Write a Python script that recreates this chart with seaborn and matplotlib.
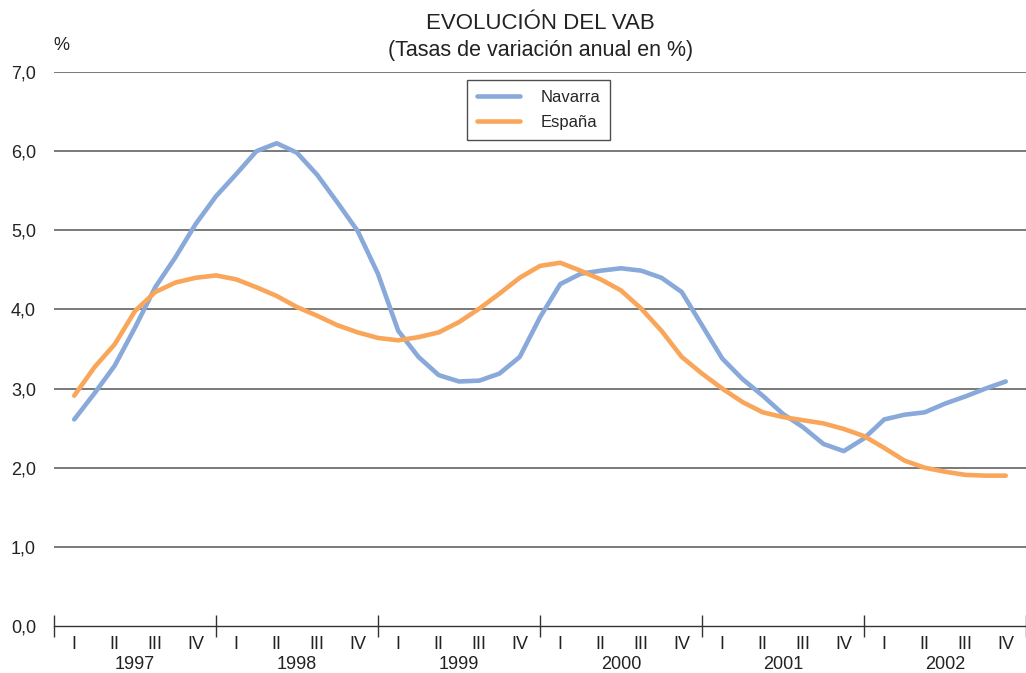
import numpy as np
import pandas as pd
import matplotlib.pyplot as plt
import seaborn as sns
from matplotlib.ticker import FuncFormatter

# quarters 1997-I .. 2002-IV, values read every half quarter
years = ["1997", "1998", "1999", "2000", "2001", "2002"]
quarters = ["I", "II", "III", "IV"]
periodo = np.arange(0, 23.5, 0.5)

navarra = [2.61, 2.94, 3.29, 3.77, 4.28, 4.66, 5.08, 5.43, 5.71, 6.00, 6.10, 5.98,
           5.70, 5.35, 4.99, 4.45, 3.73, 3.40, 3.17, 3.09, 3.10, 3.19, 3.40, 3.90,
           4.32, 4.45, 4.49, 4.52, 4.49, 4.40, 4.22, 3.80, 3.38, 3.12, 2.91, 2.68,
           2.51, 2.30, 2.21, 2.37, 2.61, 2.67, 2.70, 2.81, 2.90, 3.00, 3.09]
espana = [2.91, 3.27, 3.56, 3.98, 4.22, 4.34, 4.40, 4.43, 4.38, 4.28, 4.17, 4.03,
          3.92, 3.80, 3.71, 3.64, 3.61, 3.65, 3.71, 3.84, 4.01, 4.20, 4.40, 4.55,
          4.59, 4.49, 4.38, 4.24, 4.01, 3.73, 3.40, 3.19, 3.00, 2.83, 2.70, 2.64,
          2.60, 2.56, 2.49, 2.40, 2.25, 2.09, 2.00, 1.95, 1.91, 1.90, 1.90]

df = pd.DataFrame({"periodo": np.concatenate([periodo, periodo]),
                   "tasa": navarra + espana,
                   "serie": ["Navarra"] * len(navarra) + ["España"] * len(espana)})

sns.set_style("white")
plt.rcParams['font.family'] = ['Liberation Sans', 'DejaVu Sans']

fig = plt.figure(figsize=(10.26, 6.73), dpi=100)
ax = fig.add_axes([0.0526, 0.0698, 0.9474, 0.8232])

sns.lineplot(data=df, x="periodo", y="tasa", hue="serie", ax=ax,
             palette={"Navarra": "#88A9DA", "España": "#F9A65A"},
             linewidth=3.3, legend=True)

ax.set_xlim(-0.5, 23.3)
ax.set_ylim(0, 7)
ax.set_yticks(range(0, 8))
ax.yaxis.set_major_formatter(FuncFormatter(lambda v, p: f"{v:.1f}".replace(".", ",")))
ax.tick_params(axis="y", length=0, pad=13, labelsize=13, labelcolor="#222222")
for lvl in range(1, 8):
    ax.axhline(lvl, color="#555555", lw=1.1, zorder=0)

# roman numerals under every quarter, short ticks between quarters
ax.set_xticks(np.arange(24), labels=quarters * len(years))
ax.set_xticks(np.arange(-0.5, 24, 1), minor=True)
ax.tick_params(axis="x", which="major", length=0, pad=7, labelsize=13, labelcolor="#222222")
ax.tick_params(axis="x", which="minor", length=5, width=1, direction="out", color="#333333")
ax.set_xlabel("")
ax.set_ylabel("")

# longer ticks on year boundaries
year_edges = np.arange(-0.5, 24, 4)
sec = ax.secondary_xaxis("bottom")
sec.set_xticks(year_edges, labels=[""] * len(year_edges))
sec.tick_params(length=16, width=1, direction="inout", color="#333333")
sec.spines["bottom"].set_visible(False)
for i, y in enumerate(years):
    ax.text(4 * i + 1.5, -0.07, y, transform=ax.get_xaxis_transform(),
            ha="center", va="center", fontsize=13, color="#222222")

for s in ["top", "right", "left"]:
    ax.spines[s].set_visible(False)
ax.spines["bottom"].set_color("#333333")
ax.spines["bottom"].set_linewidth(1)

leg = ax.legend(title=None, loc="upper left", bbox_to_anchor=(0.425, 0.985),
                frameon=True, fancybox=False, edgecolor="#222222", fontsize=12,
                handlelength=2.6, borderpad=0.6, labelspacing=0.6, handletextpad=1.2,
                borderaxespad=0)
leg.get_frame().set_linewidth(1)

fig.text(0.527, 0.965, "EVOLUCIÓN DEL VAB", ha="center", va="center",
         fontsize=16, color="#222222")
fig.text(0.527, 0.925, "(Tasas de variación anual en %)", ha="center", va="center",
         fontsize=15.5, color="#222222")
fig.text(0.06, 0.933, "%", ha="center", va="center", fontsize=13, color="#222222")

fig.savefig("out.png", dpi=100)
plt.close(fig)
